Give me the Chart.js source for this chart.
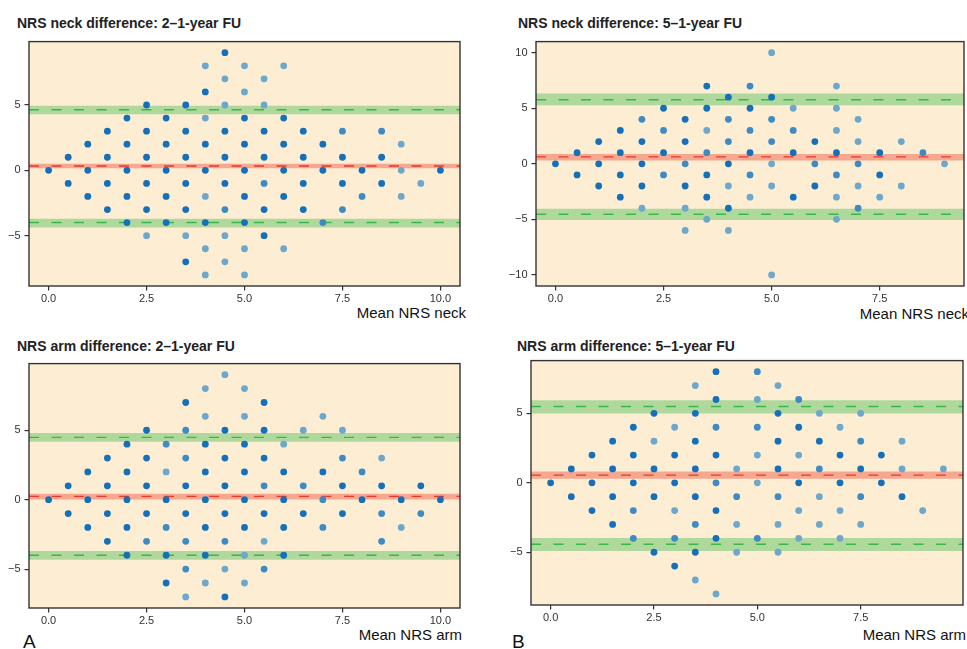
<!DOCTYPE html>
<html>
<head>
<meta charset="utf-8">
<title>Bland-Altman NRS</title>
<script src="https://cdn.jsdelivr.net/npm/chart.js"></script>
<style>
    body {
        margin: 0;
        width: 967px;
        height: 649px;
        background: #fff;
        position: relative;
        overflow: hidden;
        font-family: 'Liberation Sans', Arial, sans-serif;
    }
    canvas { position: absolute; }
    .titulo {
        position: absolute;
        font-size: 14px;
        line-height: 14px;
        font-weight: bold;
        color: #222;
        white-space: nowrap;
    }
    .eixo {
        position: absolute;
        font-size: 15px;
        line-height: 15px;
        color: #111;
        white-space: nowrap;
        text-align: right;
    }
    .letra {
        position: absolute;
        font-size: 19px;
        line-height: 19px;
        color: #111;
    }
</style>
</head>
<body>

<div class="titulo" style="left:17px; top:16px;">NRS neck difference: 2–1-year FU</div>
<div class="titulo" style="left:518px; top:16px;">NRS neck difference: 5–1-year FU</div>
<div class="titulo" style="left:17px; top:339px;">NRS arm difference: 2–1-year FU</div>
<div class="titulo" style="left:517px; top:339px;">NRS arm difference: 5–1-year FU</div>

<div class="eixo" style="right:501px; top:305px;">Mean NRS neck</div>
<div class="eixo" style="right:-2px; top:306px;">Mean NRS neck</div>
<div class="eixo" style="right:505px; top:627px;">Mean NRS arm</div>
<div class="eixo" style="right:1px; top:627px;">Mean NRS arm</div>

<div class="letra" style="left:23px; top:632px;">A</div>
<div class="letra" style="left:512px; top:632px;">B</div>

<canvas id="c1"></canvas>
<canvas id="c2"></canvas>
<canvas id="c3"></canvas>
<canvas id="c4"></canvas>

<script>
// pontos: [media, diferenca, tom] (tom 0 = claro, 1 = medio, 2 = escuro)
const neck21 = [
    [0,0,2],
    [0.5,1,2],[0.5,-1,2],
    [1,2,2],[1,0,2],[1,-2,2],
    [1.5,3,2],[1.5,1,2],[1.5,-1,2],[1.5,-3,2],
    [2,4,2],[2,2,2],[2,0,2],[2,-2,2],[2,-4,2],
    [2.5,5,2],[2.5,3,2],[2.5,1,2],[2.5,-1,2],[2.5,-3,2],[2.5,-5,0],
    [3,4,2],[3,2,2],[3,0,2],[3,-2,2],[3,-4,2],
    [3.5,5,2],[3.5,3,2],[3.5,1,2],[3.5,-1,2],[3.5,-3,2],[3.5,-5,0],[3.5,-7,2],
    [4,8,0],[4,6,2],[4,4,0],[4,2,2],[4,0,2],[4,-2,0],[4,-4,2],[4,-6,0],[4,-8,0],
    [4.5,9,2],[4.5,7,0],[4.5,5,0],[4.5,3,2],[4.5,1,2],[4.5,-1,2],[4.5,-3,1],[4.5,-5,0],[4.5,-7,0],
    [5,8,0],[5,6,0],[5,4,2],[5,2,2],[5,0,2],[5,-2,2],[5,-4,2],[5,-6,0],[5,-8,0],
    [5.5,7,0],[5.5,5,0],[5.5,3,2],[5.5,1,2],[5.5,-1,1],[5.5,-3,2],[5.5,-5,2],
    [6,8,0],[6,4,2],[6,2,2],[6,0,2],[6,-2,2],[6,-6,0],
    [6.5,3,2],[6.5,1,2],[6.5,-1,2],[6.5,-3,2],
    [7,2,2],[7,0,2],[7,-4,1],
    [7.5,3,1],[7.5,1,2],[7.5,-1,2],[7.5,-3,1],
    [8,0,2],[8,-2,1],
    [8.5,3,1],[8.5,1,2],[8.5,-1,2],
    [9,2,0],[9,0,0],[9,-2,0],
    [9.5,-1,0],
    [10,0,2]
];
const neck51 = [
    [0,0,2],
    [0.5,1,2],[0.5,-1,2],
    [1,2,2],[1,0,2],[1,-2,2],
    [1.5,3,2],[1.5,1,2],[1.5,-1,2],[1.5,-3,2],
    [2,4,1],[2,2,2],[2,0,2],[2,-2,2],[2,-4,0],
    [2.5,5,2],[2.5,3,1],[2.5,1,2],[2.5,-1,1],
    [3,4,2],[3,2,2],[3,0,1],[3,-2,2],[3,-4,0],[3,-6,0],
    [3.5,7,2],[3.5,5,2],[3.5,3,0],[3.5,1,1],[3.5,-1,2],[3.5,-3,2],[3.5,-5,0],
    [4,6,2],[4,4,1],[4,2,1],[4,0,2],[4,-2,0],[4,-4,2],[4,-6,0],
    [4.5,7,1],[4.5,5,2],[4.5,3,1],[4.5,1,2],[4.5,-1,1],[4.5,-3,0],
    [5,10,0],[5,6,2],[5,4,1],[5,2,1],[5,0,0],[5,-2,0],[5,-10,0],
    [5.5,5,0],[5.5,3,1],[5.5,1,2],[5.5,-3,2],
    [6,2,2],[6,0,1],[6,-2,2],
    [6.5,7,0],[6.5,5,0],[6.5,3,0],[6.5,1,2],[6.5,-1,1],[6.5,-3,0],[6.5,-5,0],
    [7,4,0],[7,2,0],[7,0,1],[7,-2,0],[7,-4,1],
    [7.5,1,2],[7.5,-1,2],[7.5,-3,0],
    [8,2,0],[8,-2,0],
    [8.5,1,1],
    [9,0,0]
];
const arm21 = [
    [0,0,2],
    [0.5,1,2],[0.5,-1,2],
    [1,2,2],[1,0,2],[1,-2,2],
    [1.5,3,2],[1.5,1,2],[1.5,-1,2],[1.5,-3,2],
    [2,4,2],[2,2,2],[2,0,2],[2,-2,2],[2,-4,2],
    [2.5,5,2],[2.5,3,2],[2.5,1,2],[2.5,-1,2],[2.5,-3,1],
    [3,4,1],[3,2,0],[3,0,2],[3,-2,1],[3,-4,2],[3,-6,2],
    [3.5,7,2],[3.5,5,1],[3.5,3,1],[3.5,1,2],[3.5,-1,2],[3.5,-3,1],[3.5,-5,1],[3.5,-7,0],
    [4,8,0],[4,6,0],[4,4,2],[4,2,2],[4,0,2],[4,-2,2],[4,-4,2],[4,-6,0],
    [4.5,9,0],[4.5,5,2],[4.5,3,2],[4.5,1,2],[4.5,-1,2],[4.5,-3,1],[4.5,-5,0],[4.5,-7,2],
    [5,8,0],[5,6,0],[5,4,2],[5,2,2],[5,0,2],[5,-2,2],[5,-4,0],[5,-6,0],
    [5.5,7,2],[5.5,5,2],[5.5,3,2],[5.5,1,1],[5.5,-1,2],[5.5,-3,0],[5.5,-5,1],
    [6,4,0],[6,2,2],[6,0,2],[6,-2,2],[6,-4,2],
    [6.5,5,0],[6.5,1,1],[6.5,-1,2],
    [7,6,0],[7,2,2],[7,0,1],[7,-2,1],
    [7.5,5,0],[7.5,3,1],[7.5,1,2],[7.5,-1,2],
    [8,2,1],[8,0,2],
    [8.5,3,0],[8.5,1,2],[8.5,-1,1],[8.5,-3,1],
    [9,0,2],[9,-2,0],
    [9.5,1,2],[9.5,-1,1],
    [10,0,2]
];
const arm51 = [
    [0,0,2],
    [0.5,1,2],[0.5,-1,2],
    [1,2,2],[1,0,2],[1,-2,2],
    [1.5,3,2],[1.5,1,2],[1.5,-1,2],[1.5,-3,2],
    [2,4,2],[2,2,2],[2,0,2],[2,-2,1],[2,-4,1],
    [2.5,5,2],[2.5,3,0],[2.5,1,2],[2.5,-1,2],[2.5,-5,2],
    [3,4,0],[3,2,2],[3,0,2],[3,-2,0],[3,-4,1],[3,-6,2],
    [3.5,7,0],[3.5,5,2],[3.5,3,2],[3.5,1,2],[3.5,-1,2],[3.5,-3,1],[3.5,-5,2],[3.5,-7,0],
    [4,8,2],[4,6,2],[4,4,1],[4,2,2],[4,0,1],[4,-2,2],[4,-4,2],[4,-8,0],
    [4.5,1,0],[4.5,-1,1],[4.5,-3,0],[4.5,-5,0],
    [5,8,1],[5,6,0],[5,4,1],[5,2,0],[5,0,0],[5,-4,1],
    [5.5,7,0],[5.5,5,2],[5.5,3,2],[5.5,1,2],[5.5,-1,1],[5.5,-3,0],[5.5,-5,0],
    [6,6,1],[6,4,2],[6,2,0],[6,0,2],[6,-2,0],[6,-4,0],
    [6.5,5,0],[6.5,3,2],[6.5,1,1],[6.5,-1,0],[6.5,-3,0],
    [7,4,0],[7,2,2],[7,0,2],[7,-2,0],[7,-4,0],
    [7.5,5,0],[7.5,3,1],[7.5,1,2],[7.5,-1,1],[7.5,-3,0],
    [8,2,2],[8,0,2],
    [8.5,3,0],[8.5,1,0],[8.5,-1,2],
    [9,-2,0],
    [9.5,1,0]
];

// linhas: [limite inferior da faixa, valor, limite superior da faixa]
const neck21Media = [0.15, 0.33, 0.50];
const neck21Sup = [4.30, 4.63, 4.95];
const neck21Inf = [-4.37, -3.99, -3.71];
const neck51Media = [0.29, 0.62, 0.89];
const neck51Sup = [5.28, 5.76, 6.32];
const neck51Inf = [-5.05, -4.54, -4.04];
const arm21Media = [0.02, 0.24, 0.42];
const arm21Sup = [4.18, 4.49, 4.80];
const arm21Inf = [-4.33, -4.00, -3.69];
const arm51Media = [0.29, 0.55, 0.81];
const arm51Sup = [4.99, 5.49, 5.94];
const arm51Inf = [-4.92, -4.42, -3.97];

// eixos
const xTicks10 = [0, 2.5, 5, 7.5, 10];
const xTicks75 = [0, 2.5, 5, 7.5];
const yTicks5 = [-5, 0, 5];
const yTicks10 = [-10, -5, 0, 5, 10];

const tons = ['#6ea7cc', '#3d8ac4', '#1570b9'];
const fonte = "'Liberation Sans', Arial, sans-serif";

// fundo e moldura da área do gráfico
const moldura = {
    id: 'moldura',
    beforeDraw(chart) {
        const a = chart.chartArea, ctx = chart.ctx;
        ctx.save();
        ctx.fillStyle = '#fdeed3';
        ctx.fillRect(a.left, a.top, a.right - a.left, a.bottom - a.top);
        ctx.restore();
    },
    afterDatasetsDraw(chart) {
        const a = chart.chartArea, ctx = chart.ctx;
        ctx.save();
        ctx.strokeStyle = '#333';
        ctx.lineWidth = 1.4;
        ctx.strokeRect(a.left, a.top, a.right - a.left, a.bottom - a.top);
        ctx.restore();
    }
};

function faixa(xMin, xMax, linha, corFaixa, corLinha) {
    const ext = v => [{ x: xMin, y: v }, { x: xMax, y: v }];
    return [
        { type: 'line', data: ext(linha[1]), borderColor: corLinha, borderWidth: 1.4,
          borderDash: [10, 12.5], pointRadius: 0, fill: false, order: 1 },
        { type: 'line', data: ext(linha[2]), borderWidth: 0, pointRadius: 0, fill: false, order: 2 },
        { type: 'line', data: ext(linha[0]), borderWidth: 0, pointRadius: 0, fill: '-1',
          backgroundColor: corFaixa, order: 2 }
    ];
}

function grafico(id, caixa, pontos, media, sup, inf, xr, yr, xt, yt) {
    const cv = document.getElementById(id);
    cv.style.left = caixa.left + 'px';
    cv.style.top = caixa.top + 'px';
    cv.width = caixa.w;
    cv.height = caixa.h;

    const datasets = [{
        type: 'scatter',
        data: pontos.map(p => ({ x: p[0], y: p[1] })),
        backgroundColor: pontos.map(p => tons[p[2]]),
        pointRadius: 3.4,
        pointBorderWidth: 0,
        order: 0
    }];
    datasets.push(...faixa(xr[0], xr[1], media, '#f5a88f', '#e8392d'));
    datasets.push(...faixa(xr[0], xr[1], sup, '#afd89c', '#3cb54a'));
    datasets.push(...faixa(xr[0], xr[1], inf, '#afd89c', '#3cb54a'));

    const ticksComuns = { color: '#333', font: { family: fonte, size: 11 } };
    const gradeComum = { display: true, drawOnChartArea: false, drawTicks: true,
                         tickLength: 4.5, color: '#333', lineWidth: 1.2 };

    new Chart(cv, {
        type: 'scatter',
        data: { datasets },
        options: {
            responsive: false,
            devicePixelRatio: 1,
            animation: false,
            layout: { padding: { top: caixa.pt, right: caixa.pr, left: 0, bottom: 0 } },
            plugins: { legend: { display: false }, tooltip: { enabled: false } },
            scales: {
                x: {
                    type: 'linear', min: xr[0], max: xr[1],
                    grid: gradeComum, border: { display: false },
                    ticks: Object.assign({ padding: 2, maxRotation: 0,
                        callback: v => v.toFixed(1) }, ticksComuns),
                    afterBuildTicks: s => { s.ticks = xt.map(v => ({ value: v })); },
                    afterFit: s => { s.height = caixa.xh; }
                },
                y: {
                    type: 'linear', min: yr[0], max: yr[1],
                    grid: gradeComum, border: { display: false },
                    ticks: Object.assign({ padding: 4,
                        callback: v => (v < 0 ? '\u2212' + Math.abs(v) : String(v)) }, ticksComuns),
                    afterBuildTicks: s => { s.ticks = yt.map(v => ({ value: v })); },
                    afterFit: s => { s.width = caixa.yw; }
                }
            }
        },
        plugins: [moldura]
    });
}

// painel: área do gráfico desejada -> caixa do canvas
function caixa(L, T, R, B) {
    const yw = Math.round(L) - Math.max(0, Math.round(L) - 40);
    const left = Math.round(L) - yw;
    const pt = 8, pr = 4, xh = 22;
    return { left, top: Math.round(T) - pt, w: Math.round(R) - left + pr,
             h: Math.round(B) - Math.round(T) + pt + xh, yw, pt, pr, xh };
}

grafico('c1', caixa(29, 39, 460, 286), neck21, neck21Media, neck21Sup, neck21Inf,
        [-0.5, 10.5], [-8.85, 9.85], xTicks10, yTicks5);
grafico('c2', caixa(536, 39, 964, 286), neck51, neck51Media, neck51Sup, neck51Inf,
        [-0.45, 9.45], [-11, 11], xTicks75, yTicks10);
grafico('c3', caixa(29, 361, 460, 608), arm21, arm21Media, arm21Sup, arm21Inf,
        [-0.5, 10.5], [-7.8, 9.8], xTicks10, yTicks5);
grafico('c4', caixa(531, 358, 963, 605), arm51, arm51Media, arm51Sup, arm51Inf,
        [-0.475, 9.975], [-8.8, 8.8], xTicks75, yTicks5);
</script>
</body>
</html>
